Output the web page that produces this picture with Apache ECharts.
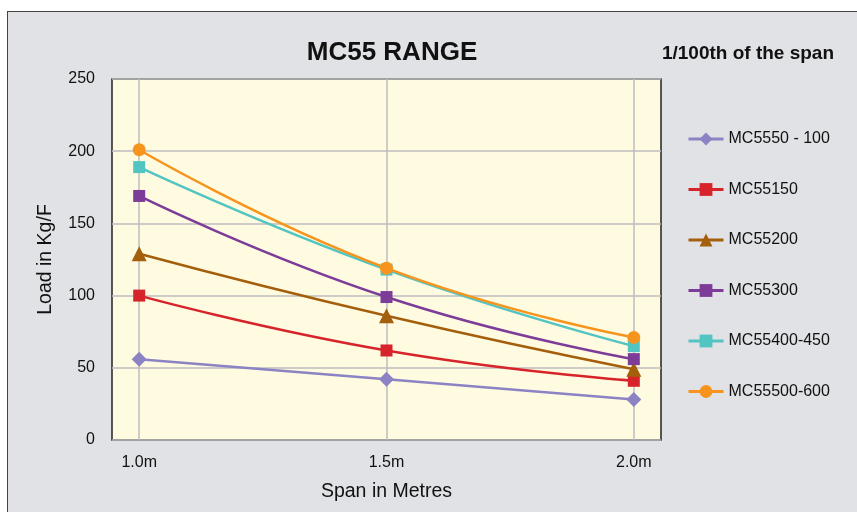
<!DOCTYPE html>
<html>
<head>
<meta charset="utf-8">
<script src="https://cdn.jsdelivr.net/npm/echarts@6/dist/echarts.min.js"></script>
<style>
html,body{margin:0;padding:0;background:#fff;}
#frame{position:absolute;left:7px;top:11px;width:860px;height:520px;background:#e1e2e5;border:1.5px solid #444;box-sizing:border-box;}
#chart{position:absolute;left:0;top:0;width:857px;height:512px;}
</style>
</head>
<body>
<div id="frame"></div>
<div id="chart"></div>
<script>
var spans = [1.0, 1.5, 2.0];
var spanLabels = ['1.0m', '1.5m', '2.0m'];
var yTicks = [0, 50, 100, 150, 200, 250];
var seriesNames = ['MC5550 - 100', 'MC55150', 'MC55200', 'MC55300', 'MC55400-450', 'MC55500-600'];
var mc5550_100 = [56, 42, 28];
var mc55150 = [100, 62, 41];
var mc55200 = [129, 86, 49];
var mc55300 = [169, 99, 56];
var mc55400_450 = [189, 118, 65];
var mc55500_600 = [201, 119, 71];

var allValues = [mc5550_100, mc55150, mc55200, mc55300, mc55400_450, mc55500_600];
var colors = ['#8b83c4', '#d7242b', '#a45f0c', '#7c3c98', '#52c4c2', '#f7941e'];
var symbols = ['diamond', 'rect', 'triangle', 'rect', 'rect', 'circle'];
var sizes = [15, 12, 15, 12, 12, 13];

var chart = echarts.init(document.getElementById('chart'), null, {renderer: 'canvas'});
var font = '"Liberation Sans", Arial, Helvetica, sans-serif';

var series = seriesNames.map(function (name, i) {
  return {
    name: name,
    type: 'line',
    smooth: 0.5,
    data: spans.map(function (x, j) { return [x, allValues[i][j]]; }),
    symbol: symbols[i],
    symbolSize: sizes[i],
    lineStyle: {color: colors[i], width: 2.5},
    itemStyle: {color: colors[i]},
    z: 2 + i
  };
});
series[0].markLine = {
  silent: true,
  symbol: 'none',
  label: {show: false},
  lineStyle: {color: '#bdbdbd', width: 1.5, type: 'solid'},
  data: spans.map(function (x) { return {xAxis: x}; }),
  z: 1
};

chart.setOption({
  animation: false,
  textStyle: {fontFamily: font},
  title: [
    {text: 'MC55 RANGE', left: 387, top: 35, textAlign: 'center',
     textStyle: {fontSize: 26, fontWeight: 'bold', color: '#111', fontFamily: font}},
    {text: '1/100th of the span', right: 18, top: 39,
     textStyle: {fontSize: 19, fontWeight: 'bold', color: '#111', fontFamily: font}}
  ],
  legend: {
    orient: 'vertical',
    left: 682,
    top: 126,
    itemWidth: 35,
    itemHeight: 16,
    itemGap: 34.5,
    lineStyle: {width: 3},
    textStyle: {fontSize: 16, color: '#111', fontFamily: font},
    data: seriesNames
  },
  grid: {
    left: 112, top: 79, width: 549, height: 361,
    show: true, backgroundColor: '#fffbe1', borderColor: '#222', borderWidth: 1.5
  },
  xAxis: {
    type: 'value',
    min: 0.945,
    max: 2.055,
    name: 'Span in Metres',
    nameLocation: 'middle',
    nameGap: 42,
    nameTextStyle: {fontSize: 19.5, color: '#111', fontFamily: font},
    axisLine: {show: false},
    axisTick: {show: false, customValues: spans},
    splitLine: {show: false},
    axisLabel: {
      customValues: spans,
      margin: 15,
      fontSize: 16,
      color: '#111',
      formatter: function (v) {
        var idx = spans.indexOf(Math.round(v * 100) / 100);
        return idx >= 0 ? spanLabels[idx] : '';
      }
    }
  },
  yAxis: {
    type: 'value',
    min: yTicks[0],
    max: yTicks[yTicks.length - 1],
    interval: 50,
    name: 'Load in Kg/F',
    nameLocation: 'middle',
    nameGap: 56,
    nameTextStyle: {fontSize: 19.5, color: '#111', fontFamily: font},
    axisLine: {show: false},
    axisTick: {show: false},
    axisLabel: {margin: 17, fontSize: 16, color: '#111'},
    splitLine: {lineStyle: {color: '#bdbdbd', width: 1.5}}
  },
  series: series
});
</script>
</body>
</html>
